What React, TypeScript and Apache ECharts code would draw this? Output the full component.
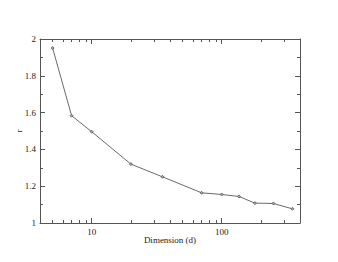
import React, { useEffect, useRef } from "react";
import * as echarts from "echarts";

const dimensions = [5, 7, 10, 20, 35, 70, 100, 136, 180, 250, 350];
const rValues = [1.951, 1.583, 1.496, 1.32, 1.251, 1.164, 1.155, 1.144, 1.108, 1.106, 1.077];
const xMajorTicks = [10, 100];
const xMinorTicks = [4, 5, 6, 7, 8, 9, 20, 30, 40, 50, 60, 70, 80, 90, 200, 300, 400];

const FONT = "Liberation Serif";
const AXIS_COLOR = "#555";
const TEXT_COLOR = "#222";

export default function App() {
  const ref = useRef<HTMLDivElement>(null);
  useEffect(() => {
    if (!ref.current) return;
    const chart = echarts.init(ref.current, null, { renderer: "svg" });
    const baseX = (position: string, ticks: number[], len: number, main: boolean) => ({
      type: "log",
      logBase: 10,
      min: 4,
      max: 400,
      position,
      gridIndex: 0,
      axisLine: main
        ? { show: true, onZero: false, lineStyle: { color: AXIS_COLOR, width: 1 } }
        : { show: false },
      axisTick: {
        show: true,
        inside: true,
        length: len,
        customValues: ticks,
        lineStyle: { color: AXIS_COLOR, width: 1 },
      },
      axisLabel: { show: false },
      splitLine: { show: false },
      minorTick: { show: false },
      minorSplitLine: { show: false },
    });
    const xBottomMajor: any = {
      ...baseX("bottom", xMajorTicks, 5, true),
      name: "Dimension (d)",
      nameLocation: "middle",
      nameGap: 12,
      nameMoveOverlap: false,
      nameTextStyle: { fontFamily: FONT, fontSize: 9, color: TEXT_COLOR },
      axisLabel: {
        show: true,
        customValues: xMajorTicks,
        margin: 4,
        fontFamily: FONT,
        fontSize: 9,
        color: TEXT_COLOR,
        formatter: (v: number) => String(Math.round(v)),
      },
    };
    const option: any = {
      animation: false,
      grid: { left: 40, right: 38, top: 39, bottom: 39, containLabel: false },
      xAxis: [
        xBottomMajor,
        baseX("bottom", xMinorTicks, 3, false),
        baseX("top", xMajorTicks, 5, true),
        baseX("top", xMinorTicks, 3, false),
      ],
      yAxis: [
        {
          type: "value",
          min: 1,
          max: 2,
          interval: 0.2,
          position: "left",
          name: "r",
          nameLocation: "middle",
          nameGap: 17,
          nameMoveOverlap: false,
          nameRotate: 90,
          nameTextStyle: { fontFamily: FONT, fontSize: 9, color: TEXT_COLOR },
          axisLine: { show: true, onZero: false, lineStyle: { color: AXIS_COLOR, width: 1 } },
          axisTick: { show: true, inside: true, length: 5, lineStyle: { color: AXIS_COLOR } },
          minorTick: { show: true, splitNumber: 2, length: 3, lineStyle: { color: AXIS_COLOR } },
          axisLabel: {
            margin: 4,
            fontFamily: FONT,
            fontSize: 9,
            color: TEXT_COLOR,
            formatter: (v: number) => String(parseFloat(v.toFixed(1))),
          },
          splitLine: { show: false },
        },
        {
          type: "value",
          min: 1,
          max: 2,
          interval: 0.2,
          position: "right",
          axisLine: { show: true, onZero: false, lineStyle: { color: AXIS_COLOR, width: 1 } },
          axisTick: { show: true, inside: true, length: 5, lineStyle: { color: AXIS_COLOR } },
          minorTick: { show: true, splitNumber: 2, length: 3, lineStyle: { color: AXIS_COLOR } },
          axisLabel: { show: false },
          splitLine: { show: false },
        },
      ],
      series: [
        {
          type: "line",
          xAxisIndex: 0,
          yAxisIndex: 0,
          data: dimensions.map((d, i) => [d, rValues[i]]),
          lineStyle: { color: "#444", width: 0.8 },
          itemStyle: { color: "#aaa", borderColor: "#444", borderWidth: 0.7 },
          symbol: "diamond",
          symbolSize: 3,
          showSymbol: true,
        },
      ],
    };
    chart.setOption(option);
    return () => chart.dispose();
  }, []);
  return <div ref={ref} style={{ width: 338, height: 262, margin: -8 }} />;
}
